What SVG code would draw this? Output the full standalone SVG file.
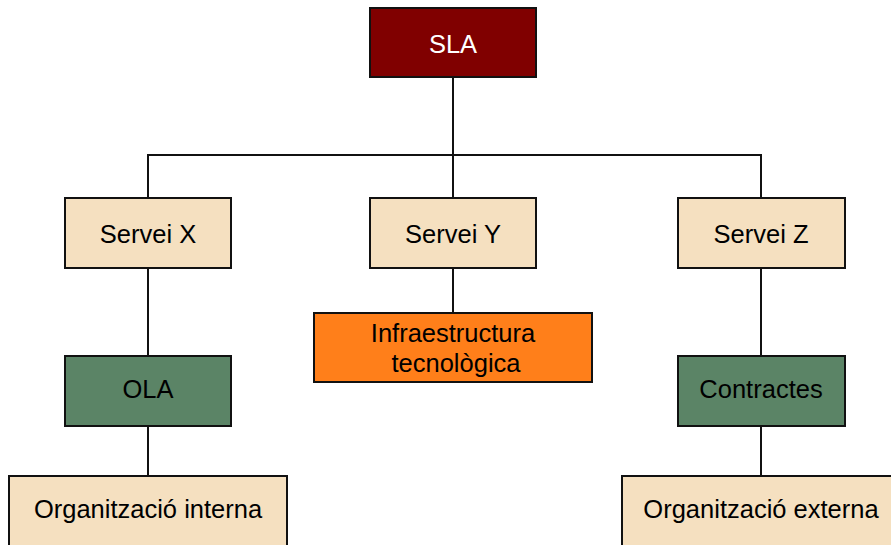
<svg xmlns="http://www.w3.org/2000/svg" width="891" height="545" viewBox="0 0 891 545">
<style>
rect{stroke:#111;stroke-width:2}
.b{fill:#F5E0C0}
.g{fill:#5B8466}
text{font-family:"Liberation Sans",Arial,sans-serif;font-size:25.5px;text-anchor:middle;fill:#000}
.w{fill:#fff}
#conn path{fill:none;stroke:#111;stroke-width:2}
</style>
<g id="conn">
<path d="M453 77V155M148 198V155H761V198M453 155V198M148 268V356M148 426V476M453 268V313M761 268V356M761 426V476"/>
</g>
<g id="sla"><rect x="370" y="8" width="166" height="69" fill="#800000"/><text class="w" x="453" y="53">SLA</text></g>
<g id="sx"><rect class="b" x="65" y="198" width="166" height="70"/><text x="148" y="243">Servei X</text></g>
<g id="sy"><rect class="b" x="370" y="198" width="166" height="70"/><text x="453" y="243">Servei Y</text></g>
<g id="sz"><rect class="b" x="678" y="198" width="167" height="70"/><text x="761" y="243">Servei Z</text></g>
<g id="infra"><rect x="314" y="313" width="278" height="69" fill="#FF7F1A"/><text x="453" y="342">Infraestructura</text><text x="456" y="372">tecnològica</text></g>
<g id="ola"><rect class="g" x="65" y="356" width="166" height="70"/><text x="148" y="398">OLA</text></g>
<g id="contr"><rect class="g" x="678" y="356" width="167" height="70"/><text x="761" y="398">Contractes</text></g>
<g id="oi"><rect class="b" x="9" y="476" width="278" height="80"/><text x="148" y="518">Organització interna</text></g>
<g id="oe"><rect class="b" x="622" y="476" width="280" height="80"/><text x="761" y="518">Organització externa</text></g>
</svg>
